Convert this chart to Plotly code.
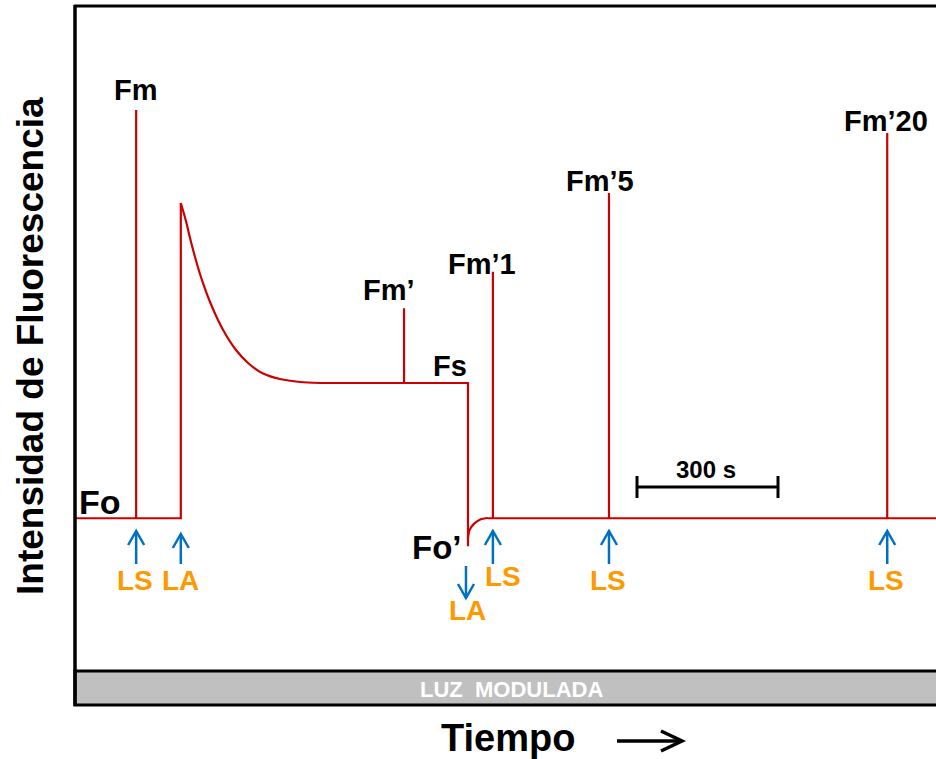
import plotly.graph_objects as go

# ---------------- data (time in s, fluorescence in relative units) ----------------
seg_a_t = [0, 128, 128, 128, 223, 223]
seg_a_f = [0.271, 0.271, 1.000, 0.271, 0.271, 0.834]

decay_t = [223, 234.0, 242.6, 253.2, 263.8, 274.5, 285.1, 302.1, 319.1, 340.4, 366.0, 395.7, 434.0, 476.6, 519.1]
decay_f = [0.834, 0.8018, 0.7714, 0.7375, 0.7071, 0.6804, 0.6571, 0.6250, 0.5982, 0.5714, 0.5482, 0.5304, 0.5196, 0.5143, 0.5125]

seg_b_t = [519.1, 698, 698, 698, 834, 834]
seg_b_f = [0.5125, 0.5125, 0.646, 0.5125, 0.5125, 0.221]

recov_t = [834.0, 837.2, 846.6, 860.2, 876.6]
recov_f = [0.236, 0.2495, 0.2609, 0.2688, 0.2714]

seg_c_t = [876.6, 887, 887, 887, 1134, 1134, 1134, 1726, 1726, 1726, 1850]
seg_c_f = [0.271, 0.271, 0.711, 0.271, 0.271, 0.852, 0.271, 0.271, 0.959, 0.271, 0.271]

peak_labels = ["Fm", "Fm’", "Fs", "Fm’1", "Fm’5", "Fm’20"]
ls_times = [128, 887, 1134, 1726]
la_times = [223, 834]

# ---------------- geometry helpers (pixel -> data) ----------------
W, H = 936, 759
X_LEFT, S_PER_PX = 76, 300 / 141
Y_ZERO, PX_PER_F = 670, 560


def tx(px):
    return (px - X_LEFT) * S_PER_PX


def fy(py):
    return (Y_ZERO - py) / PX_PER_F


def px_of_t(t):
    return X_LEFT + t / S_PER_PX


RED = "#CC0000"
BLUE = "#0070C0"
ORANGE = "#FF9900"
FONT = "Liberation Sans, Arial, sans-serif"

fig = go.Figure()
for tt, ff, shape in [(seg_a_t, seg_a_f, "linear"), (decay_t, decay_f, "spline"),
                      (seg_b_t, seg_b_f, "linear"), (recov_t, recov_f, "spline"),
                      (seg_c_t, seg_c_f, "linear")]:
    fig.add_trace(go.Scatter(x=tt, y=ff, mode="lines",
                             line=dict(color=RED, width=2.2, shape=shape, smoothing=0.8),
                             showlegend=False, hoverinfo="skip"))

shapes = []


def seg(x0, y0, x1, y1, color="black", width=3):
    shapes.append(dict(type="line", xref="x", yref="y",
                       x0=tx(x0), y0=fy(y0), x1=tx(x1), y1=fy(y1),
                       line=dict(color=color, width=width), layer="above"))


def path(pts, color, width):
    d = "M " + " L ".join(f"{tx(a)},{fy(b)}" for a, b in pts)
    shapes.append(dict(type="path", xref="x", yref="y", path=d,
                       line=dict(color=color, width=width), layer="above"))


# frame + modulated-light band
shapes.append(dict(type="rect", xref="x", yref="y", x0=tx(75), x1=tx(945), y0=fy(671), y1=fy(705),
                   fillcolor="#C0C0C0", line=dict(color="black", width=3), layer="above"))
seg(75, 5, 75, 706, width=3.5)
seg(74, 6, 945, 6, width=3)

# scale bar 300 s
seg(637, 487, 778, 487)
seg(637, 476, 637, 498)
seg(778, 476, 778, 498)


# arrows (LS up, LA up/down)
def up_arrow(x, ytop, ybot):
    path([(x, ybot), (x, ytop)], BLUE, 2.5)
    path([(x - 8, ytop + 14), (x, ytop), (x + 8, ytop + 14)], BLUE, 2.5)


def down_arrow(x, ytop, ybot):
    path([(x, ytop), (x, ybot)], BLUE, 2.5)
    path([(x - 8, ybot - 14), (x, ybot), (x + 8, ybot - 14)], BLUE, 2.5)


for t in ls_times:
    up_arrow(px_of_t(t), 531, 564)
up_arrow(px_of_t(la_times[0]), 534, 564)
down_arrow(px_of_t(la_times[1]) - 2, 566, 598)

# Tiempo arrow
path([(617, 741), (681, 741)], "black", 3.5)
path([(661, 731), (682, 741), (661, 751)], "black", 3.5)

annotations = []


def label(text, px, py, size, color="black", angle=0):
    annotations.append(dict(text=text, x=tx(px), y=fy(py), xref="x", yref="y",
                            showarrow=False, xanchor="center", yanchor="middle",
                            textangle=angle,
                            font=dict(family=FONT, size=size, color=color, weight="bold")))


label_pos = [(136, 90), (389, 290), (450, 366), (482, 264), (600, 181), (886, 121)]
for txt, (a, b) in zip(peak_labels, label_pos):
    label(txt, a, b, 29)

label("Fo", 100, 502, 34)
label("Fo’", 436, 547, 33)
label("300 s", 706, 469, 24)

for t in ls_times:
    x = px_of_t(t)
    if t == 887:
        label("LS", x + 10, 576, 28, ORANGE)
    else:
        label("LS", x - 1, 580, 28, ORANGE)
label("LA", px_of_t(la_times[0]), 580, 28, ORANGE)
label("LA", px_of_t(la_times[1]), 610, 28, ORANGE)

label("LUZ  MODULADA", 511, 689, 22, "white")
label("Tiempo", 508, 738, 38)
label("Intensidad de Fluorescencia", 30, 346, 37, angle=-90)

fig.update_layout(
    width=W, height=H, margin=dict(l=0, r=0, t=0, b=0),
    paper_bgcolor="white", plot_bgcolor="white",
    xaxis=dict(range=[tx(0), tx(W)], visible=False, fixedrange=True),
    yaxis=dict(range=[fy(H), fy(0)], visible=False, fixedrange=True),
    shapes=shapes, annotations=annotations, showlegend=False,
)

fig.write_html("out.html")
